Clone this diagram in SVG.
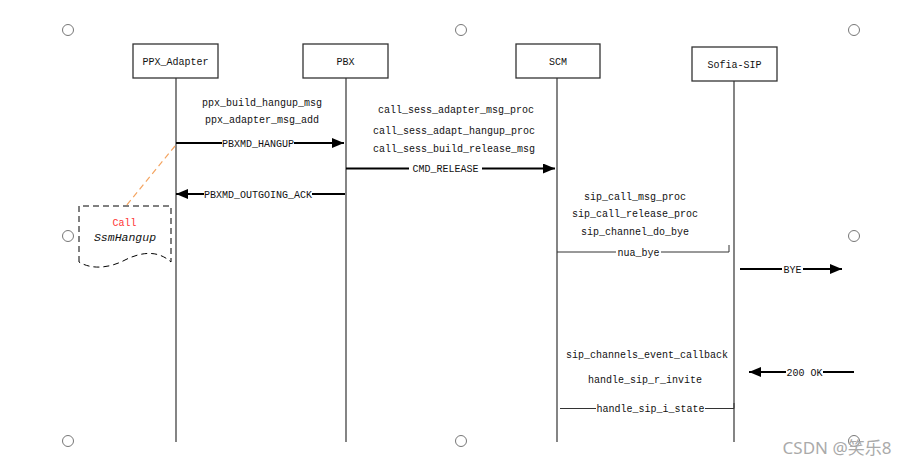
<svg xmlns="http://www.w3.org/2000/svg" width="913" height="467" viewBox="0 0 913 467">
<style>
.t{font-family:"Liberation Mono",monospace;font-size:10px;fill:#111;text-anchor:middle}
.box{fill:#fff;stroke:#333;stroke-width:1.3}
.life{stroke:#333;stroke-width:1.2}
.msg{stroke:#000;stroke-width:2;fill:none}
.thin{stroke:#333;stroke-width:1;fill:none}
.circ{fill:#fff;stroke:#777;stroke-width:1}
.bg{fill:#fff}
</style>
<defs>
<marker id="ah" viewBox="0 0 12 10" refX="12" refY="5" markerWidth="12" markerHeight="10" markerUnits="userSpaceOnUse" orient="auto">
<path d="M0,0 L12,5 L0,10 Z" fill="#000"/>
</marker>
</defs>
<rect width="913" height="467" fill="#fff"/>
<g id="handles">
<circle class="circ" cx="68" cy="30" r="5.5"/>
<circle class="circ" cx="461" cy="30" r="5.5"/>
<circle class="circ" cx="854" cy="30" r="5.5"/>
<circle class="circ" cx="68" cy="236" r="5.5"/>
<circle class="circ" cx="854" cy="236" r="5.5"/>
<circle class="circ" cx="68" cy="441" r="5.5"/>
<circle class="circ" cx="461" cy="441" r="5.5"/>
<circle class="circ" cx="854" cy="441" r="5.5"/>
</g>
<g id="lifelines">
<line class="life" x1="176" y1="78" x2="176" y2="442"/>
<line class="life" x1="346" y1="78" x2="346" y2="442"/>
<line class="life" x1="557" y1="78" x2="557" y2="442"/>
<line class="life" x1="734" y1="81" x2="734" y2="442"/>
</g>
<g id="ppx_adapter">
<rect class="box" x="133" y="44" width="85" height="34"/>
<text class="t" x="175.5" y="64.5">PPX_Adapter</text>
</g>
<g id="pbx">
<rect class="box" x="303" y="44" width="85" height="34"/>
<text class="t" x="345.5" y="64.5">PBX</text>
</g>
<g id="scm">
<rect class="box" x="516" y="44" width="84" height="34"/>
<text class="t" x="558" y="64.5">SCM</text>
</g>
<g id="sofia_sip">
<rect class="box" x="692" y="47" width="85" height="34"/>
<text class="t" x="734.5" y="67.5">Sofia-SIP</text>
</g>
<g id="note">
<line x1="175" y1="146" x2="126" y2="206" stroke="#f4a460" stroke-width="1.2" stroke-dasharray="6,4"/>
<path d="M79,262 V206 H171 V262 C160,252 145,250 125,260 C110,268 92,270 79,262" fill="#fff" stroke="#000" stroke-width="1" stroke-dasharray="6,4"/>
<text x="124.5" y="225.5" style="font-family:'Liberation Mono',monospace;font-size:10px;fill:#ff3333;text-anchor:middle">Call</text>
<text x="125" y="241" style="font-family:'Liberation Mono',monospace;font-size:11.5px;font-style:italic;fill:#111;text-anchor:middle">SsmHangup</text>
</g>
<g id="connectors">
<line class="msg" x1="176" y1="143" x2="344" y2="143" marker-end="url(#ah)"/>
<rect class="bg" x="222" y="137" width="72" height="12"/>
<text class="t" x="258" y="146.5">PBXMD_HANGUP</text>
<line class="msg" x1="346" y1="168.5" x2="555" y2="168.5" marker-end="url(#ah)"/>
<rect class="bg" x="409" y="162" width="73" height="12"/>
<text class="t" x="445.5" y="172">CMD_RELEASE</text>
<line class="msg" x1="345" y1="194" x2="176" y2="194" marker-end="url(#ah)"/>
<rect class="bg" x="204" y="188" width="108" height="12"/>
<text class="t" x="258" y="197.5">PBXMD_OUTGOING_ACK</text>
<path class="thin" d="M557,252 H729 V245"/>
<rect class="bg" x="616" y="247" width="45" height="11"/>
<text class="t" x="638.5" y="255.5">nua_bye</text>
<line class="msg" x1="740" y1="269" x2="842" y2="269" marker-end="url(#ah)"/>
<rect class="bg" x="782" y="263" width="21" height="12"/>
<text class="t" x="792.5" y="272.5">BYE</text>
<line class="msg" x1="854" y1="372" x2="749" y2="372" marker-end="url(#ah)"/>
<rect class="bg" x="786" y="366" width="37" height="12"/>
<text class="t" x="804.5" y="375.5">200 OK</text>
<path class="thin" d="M560,408.5 H734 V403"/>
<rect class="bg" x="596" y="403" width="109" height="12"/>
<text class="t" x="650.5" y="412">handle_sip_i_state</text>
</g>
<g id="labels">
<text class="t" x="262" y="105.5">ppx_build_hangup_msg</text>
<text class="t" x="262" y="122.5">ppx_adapter_msg_add</text>
<text class="t" x="456" y="112.5">call_sess_adapter_msg_proc</text>
<text class="t" x="454" y="133.5">call_sess_adapt_hangup_proc</text>
<text class="t" x="454" y="151.5">call_sess_build_release_msg</text>
<text class="t" x="635" y="199.5">sip_call_msg_proc</text>
<text class="t" x="635" y="216.5">sip_call_release_proc</text>
<text class="t" x="635" y="234.5">sip_channel_do_bye</text>
<text class="t" x="647" y="357.5">sip_channels_event_callback</text>
<text class="t" x="645" y="382.5">handle_sip_r_invite</text>
</g>
<text x="837" y="454" style="font-family:'Noto Sans','Noto Sans CJK SC',sans-serif;font-size:17px;fill:#aaa;text-anchor:middle">CSDN @笑乐8</text>
</svg>
